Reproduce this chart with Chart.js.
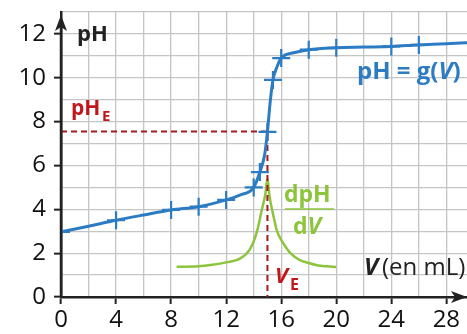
<!DOCTYPE html>
<html>
<head>
<meta charset="utf-8">
<script src="https://cdn.jsdelivr.net/npm/chart.js@4.4.1/dist/chart.umd.min.js"></script>
<style>
html,body{margin:0;padding:0;background:#fff;}
#wrap{width:467px;height:334px;position:relative;}
</style>
</head>
<body>
<div id="wrap"><canvas id="c" width="467" height="334"></canvas></div>
<script>
// ---- data ----
const V_curve  = [0, 2, 4, 6, 8, 10, 12, 13, 14, 14.45, 14.8, 15, 15.2, 15.4, 15.7, 16, 17, 18, 20, 22, 24, 26, 28, 29.5];
const pH_curve = [2.97, 3.23, 3.5, 3.74, 3.97, 4.12, 4.43, 4.65, 5.0, 5.7, 6.5, 7.53, 8.9, 9.9, 10.5, 10.9, 11.15, 11.28, 11.37, 11.4, 11.43, 11.5, 11.55, 11.6];
const V_marks  = [0, 4, 8, 10, 12, 14, 14.45, 15, 15.4, 16, 18, 20, 24, 26];
const pH_marks = [2.97, 3.5, 3.97, 4.12, 4.43, 5.0, 5.7, 7.53, 9.9, 10.9, 11.28, 11.37, 11.43, 11.5];
const V_deriv  = [8.4, 10, 11, 12, 13, 13.7, 14.2, 14.6, 14.85, 15, 15.15, 15.4, 15.7, 16.1, 16.6, 17.3, 18, 18.6, 19.3, 20];
const dpH_dV   = [1.38, 1.40, 1.47, 1.58, 1.75, 2.15, 2.9, 4.0, 4.7, 5.4, 4.6, 3.8, 3.0, 2.5, 2.05, 1.7, 1.55, 1.45, 1.4, 1.37];
const VE = 15;
const pHE = 7.55;
const xTickLabels = [0, 4, 8, 12, 16, 20, 24, 28];
const yTickLabels = [0, 2, 4, 6, 8, 10, 12];

const BLUE = '#2c7cc4';
const GREEN = '#8cc43c';
const RED = '#c0161c';
const DRED = '#a31a1a';
const GRID = '#c4c4c4';
const FONT = '"Open Sans", "DejaVu Sans", sans-serif';

const pts = (xs, ys) => xs.map((x, i) => ({x: x, y: ys[i]}));
const noPad = s => { s.paddingLeft = 0; s.paddingRight = 0; s.paddingTop = 0; s.paddingBottom = 0; };

const overlay = {
  id: 'overlay',
  afterDraw(chart) {
    const ctx = chart.ctx;
    const xs = chart.scales.x, ys = chart.scales.y;
    const x0 = xs.getPixelForValue(0), y0 = ys.getPixelForValue(0);
    ctx.save();
    // arrows
    ctx.fillStyle = '#222';
    ctx.beginPath();
    ctx.moveTo(x0, 15); ctx.lineTo(x0 - 6, 31); ctx.lineTo(x0, 27); ctx.lineTo(x0 + 6, 31); ctx.closePath(); ctx.fill();
    ctx.strokeStyle = '#222'; ctx.lineWidth = 2.5;
    ctx.beginPath(); ctx.moveTo(x0, y0); ctx.lineTo(x0, 25); ctx.stroke();
    ctx.beginPath();
    ctx.moveTo(467, y0); ctx.lineTo(451, y0 - 6); ctx.lineTo(455, y0); ctx.lineTo(451, y0 + 6); ctx.closePath(); ctx.fill();

    ctx.textBaseline = 'alphabetic';
    ctx.textAlign = 'left';
    // pH axis title
    ctx.fillStyle = '#222';
    ctx.font = 'bold 22px ' + FONT;
    ctx.fillText('pH', 77, 41);
    // V (en mL)
    ctx.font = 'italic bold 24px ' + FONT;
    ctx.fillText('V', 364, 275);
    ctx.font = '24px ' + FONT;
    ctx.fillText('(en mL)', 382, 275);
    // pH = g(V)
    ctx.fillStyle = BLUE;
    ctx.font = 'bold 24px ' + FONT;
    let t = 'pH = g(';
    ctx.fillText(t, 357, 79);
    let w = ctx.measureText(t).width;
    ctx.font = 'italic bold 24px ' + FONT;
    ctx.fillText('V', 357 + w, 79);
    let w2 = ctx.measureText('V').width;
    ctx.font = 'bold 24px ' + FONT;
    ctx.fillText(')', 357 + w + w2, 79);
    // pH_E
    ctx.fillStyle = RED;
    ctx.font = 'bold 21px ' + FONT;
    ctx.fillText('pH', 71, 115);
    ctx.font = 'bold 15px ' + FONT;
    ctx.fillText('E', 102, 121);
    // V_E
    ctx.font = 'italic bold 22px ' + FONT;
    ctx.fillText('V', 275, 283);
    ctx.font = 'bold 16px ' + FONT;
    ctx.fillText('E', 290, 290);
    // dpH / dV
    ctx.fillStyle = GREEN;
    ctx.font = 'bold 23px ' + FONT;
    ctx.fillText('dpH', 284, 202);
    ctx.fillText('d', 293, 234);
    let wd = ctx.measureText('d').width;
    ctx.font = 'italic bold 23px ' + FONT;
    ctx.fillText('V', 293 + wd, 234);
    ctx.strokeStyle = GREEN; ctx.lineWidth = 1.5;
    ctx.beginPath(); ctx.moveTo(285, 209); ctx.lineTo(334, 209); ctx.stroke();
    ctx.restore();
  }
};

new Chart(document.getElementById('c'), {
  type: 'scatter',
  data: {
    datasets: [
      {
        label: 'dpH/dV', data: pts(V_deriv, dpH_dV), showLine: true,
        borderColor: GREEN, borderWidth: 2.5, pointRadius: 0,
        cubicInterpolationMode: 'monotone', order: 4
      },
      {
        label: 'repère', data: [{x: 0, y: pHE}, {x: VE, y: pHE}, {x: VE, y: 0}], showLine: true,
        borderColor: DRED, borderWidth: 2, borderDash: [6, 4], pointRadius: 0, tension: 0, order: 3
      },
      {
        label: 'pH', data: pts(V_curve, pH_curve), showLine: true,
        borderColor: BLUE, borderWidth: 3, pointRadius: 0,
        cubicInterpolationMode: 'monotone', order: 2
      },
      {
        label: 'mesures', data: pts(V_marks, pH_marks), showLine: false,
        pointStyle: 'cross', pointRadius: 9, borderColor: BLUE, borderWidth: 2.2,
        pointHoverRadius: 9, order: 1
      }
    ]
  },
  options: {
    responsive: false,
    animation: false,
    events: [],
    layout: {autoPadding: false, padding: {top: 12, right: 0, left: 0, bottom: 0}},
    plugins: {legend: {display: false}, tooltip: {enabled: false}},
    scales: {
      x: {
        type: 'linear', min: 0, max: 29.5,
        afterFit: s => { s.height = 37; noPad(s); },
        ticks: {
          stepSize: 2, includeBounds: false, autoSkip: false, maxRotation: 0,
          color: '#111', padding: 2,
          font: {family: FONT, size: 24},
          callback: v => xTickLabels.includes(v) ? String(v) : ''
        },
        grid: {
          color: GRID, lineWidth: 1.3, tickLength: 7,
          tickColor: c => (c.tick && xTickLabels.includes(c.tick.value)) ? '#222' : 'rgba(0,0,0,0)',
          tickWidth: 2
        },
        border: {display: true, color: '#222', width: 2.5}
      },
      y: {
        type: 'linear', min: 0, max: 13,
        afterFit: s => { s.width = 61; noPad(s); },
        ticks: {
          stepSize: 1, includeBounds: false, autoSkip: false,
          color: '#111', padding: 8,
          font: {family: FONT, size: 24},
          callback: v => yTickLabels.includes(v) ? String(v) : ''
        },
        grid: {
          color: GRID, lineWidth: 1.3, tickLength: 7,
          tickColor: c => (c.tick && yTickLabels.includes(c.tick.value)) ? '#222' : 'rgba(0,0,0,0)',
          tickWidth: 2
        },
        border: {display: true, color: '#222', width: 2.5}
      }
    }
  },
  plugins: [overlay]
});
</script>
</body>
</html>
